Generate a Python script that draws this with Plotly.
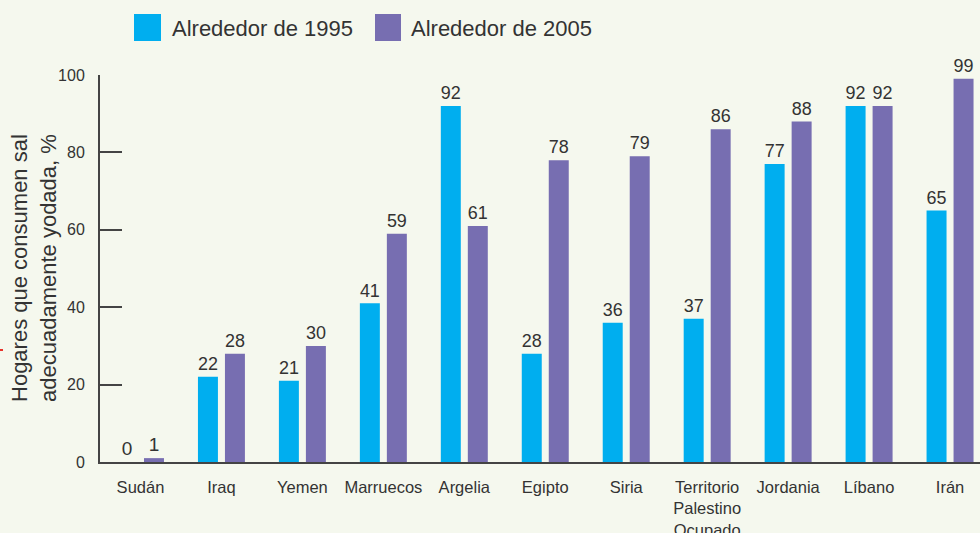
import plotly.graph_objects as go

categories = ["Sudán", "Iraq", "Yemen", "Marruecos", "Argelia", "Egipto", "Siria",
              "Territorio<br>Palestino<br>Ocupado", "Jordania", "Líbano", "Irán"]
values_1995 = [0, 22, 21, 41, 92, 28, 36, 37, 77, 92, 65]
values_2005 = [1, 28, 30, 59, 61, 78, 79, 86, 88, 92, 99]
series_names = ["Alrededor de 1995", "Alrededor de 2005"]
y_ticks = [0, 20, 40, 60, 80, 100]
y_title = "Hogares que consumen sal<br>adecuadamente yodada, %"

CYAN = "#00AEEF"
PURPLE = "#776EB1"
BG = "#F5F8EE"
TXT = "#333333"
FONT = "Liberation Sans, Arial, sans-serif"

W, H = 980, 533
L, R, T, B = 100, 0, 75, 71
pw, ph = W - L - R, H - T - B

def px(x):
    return (x - L) / pw

def py(y):
    return (H - B - y) / ph

fig = go.Figure()
for name, vals, col in [(series_names[0], values_1995, CYAN), (series_names[1], values_2005, PURPLE)]:
    fig.add_trace(go.Bar(
        x=list(range(len(categories))), y=vals, name=name,
        marker=dict(color=col, line=dict(width=0)),
        text=[str(v) for v in vals], textposition="outside",
        textfont=dict(size=19, color=TXT, family=FONT),
        cliponaxis=False, showlegend=False,
    ))

# custom legend
shapes = []
annotations = []
for (x0, x1, tx), name, col in zip([(134, 161, 170), (375, 401, 409)], series_names, [CYAN, PURPLE]):
    shapes.append(dict(type="rect", xref="paper", yref="paper",
                       x0=px(x0), x1=px(x1), y0=py(41), y1=py(14),
                       fillcolor=col, line=dict(width=0)))
    annotations.append(dict(xref="paper", yref="paper", x=px(tx), y=py(29),
                            xanchor="left", yanchor="middle", text=name, showarrow=False,
                            font=dict(size=22, color=TXT, family=FONT)))

# y-axis title as rotated annotation
annotations.append(dict(xref="paper", yref="paper", x=px(34), y=py(268),
                        xanchor="center", yanchor="middle", text=y_title, textangle=-90,
                        showarrow=False, font=dict(size=22, color=TXT, family=FONT)))

# small red mark at the left edge
shapes.append(dict(type="line", xref="paper", yref="paper",
                   x0=px(0), x1=px(3), y0=py(350), y1=py(350),
                   line=dict(color="#E8332A", width=2)))

fig.update_layout(
    width=W, height=H,
    margin=dict(l=L, r=R, t=T, b=B, pad=0, autoexpand=False),
    paper_bgcolor=BG, plot_bgcolor=BG,
    barmode="group", bargap=0.333, bargroupgap=0.26,
    font=dict(family=FONT, color=TXT),
    shapes=shapes, annotations=annotations,
    xaxis=dict(
        tickmode="array", tickvals=list(range(len(categories))), ticktext=categories,
        range=[-0.5, 10.37], showgrid=False, zeroline=False, automargin=False,
        showline=True, linecolor="#444444", linewidth=2,
        ticks="", tickfont=dict(size=16.5, color=TXT, family=FONT),
        ticklabelstandoff=9, tickangle=0,
    ),
    yaxis=dict(
        range=[0, 100], tickvals=y_ticks, showgrid=False, zeroline=False, automargin=False,
        showline=True, linecolor="#444444", linewidth=2,
        ticks="inside", ticklen=22, tickwidth=2, tickcolor="#444444",
        tickfont=dict(size=16, color=TXT, family=FONT),
        ticklabelstandoff=10,
    ),
)

fig.write_html("out.html", config={"displayModeBar": False},
               post_script="document.body.style.margin='0';document.body.style.overflow='hidden';")
